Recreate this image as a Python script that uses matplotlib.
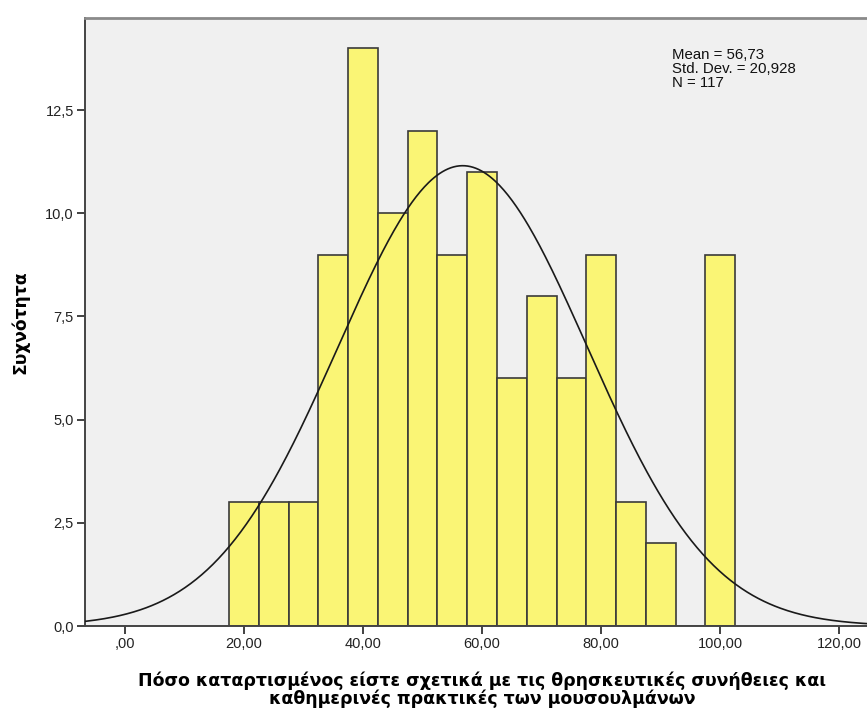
import numpy as np
import matplotlib
matplotlib.use("Agg")
from matplotlib import pyplot as plt

# histogram bins (width 5) and counts
bin_left = [17.5, 22.5, 27.5, 32.5, 37.5, 42.5, 47.5, 52.5, 57.5, 62.5,
            67.5, 72.5, 77.5, 82.5, 87.5, 92.5, 97.5]
counts = [3, 3, 3, 9, 14, 10, 12, 9, 11, 6, 8, 6, 9, 3, 2, 0, 9]
bin_width = 5

mean = 56.73
std = 20.928
n = 117

x_ticks = [0, 20, 40, 60, 80, 100, 120]
x_labels = [",00", "20,00", "40,00", "60,00", "80,00", "100,00", "120,00"]
y_ticks = [0, 2.5, 5, 7.5, 10, 12.5]
y_labels = ["0,0", "2,5", "5,0", "7,5", "10,0", "12,5"]

xlabel = ("Πόσο καταρτισμένος είστε σχετικά με τις θρησκευτικές συνήθειες και\n"
          "καθημερινές πρακτικές των μουσουλμάνων")
ylabel = "Συχνότητα"

fig = plt.figure(figsize=(8.67, 7.11), dpi=100)
ax = fig.add_axes([85/867, 1 - 626/711, 787/867, 608/711])
ax.set_facecolor("#f0f0f0")

ax.bar(bin_left, counts, width=bin_width, align="edge",
       color="#faf575", edgecolor="#3a3a3a", linewidth=1.2, zorder=2)

xs = np.linspace(-10, 130, 600)
ys = n * bin_width * np.exp(-0.5 * ((xs - mean) / std) ** 2) / (std * np.sqrt(2 * np.pi))
ax.plot(xs, ys, color="#1a1a1a", linewidth=1.2, zorder=3)

ax.set_xlim(-6.72, 125.5)
ax.set_ylim(0, 14.73)

ax.set_xticks(x_ticks)
ax.set_xticklabels(x_labels)
ax.set_yticks(y_ticks)
ax.set_yticklabels(y_labels)
ax.tick_params(direction="out", length=6, width=1.3, color="#333333",
               labelsize=10.5, labelcolor="#222222", pad=2)
for lab in ax.get_xticklabels() + ax.get_yticklabels():
    lab.set_family("Liberation Sans")

for side in ["left", "bottom"]:
    ax.spines[side].set_color("#444444")
    ax.spines[side].set_linewidth(1.4)
ax.spines["top"].set_color("#8a8a8a")
ax.spines["top"].set_linewidth(2)
ax.spines["right"].set_visible(False)

ax.text(0.746, 0.950, "Mean = 56,73\nStd. Dev. = 20,928\nN = 117",
        transform=ax.transAxes, family="Liberation Sans", fontsize=10.8,
        va="top", ha="left", linespacing=0.98, color="#111111")

fig.text(482/867, 1 - 690/711, xlabel, ha="center", va="center",
         fontsize=12.5, fontweight="bold", family="DejaVu Sans", linespacing=1.0)
fig.text(20/867, 1 - 322/711, ylabel, ha="center", va="center", rotation=90,
         fontsize=12.3, fontweight="bold", family="DejaVu Sans")

fig.savefig("out.png", dpi=100)
